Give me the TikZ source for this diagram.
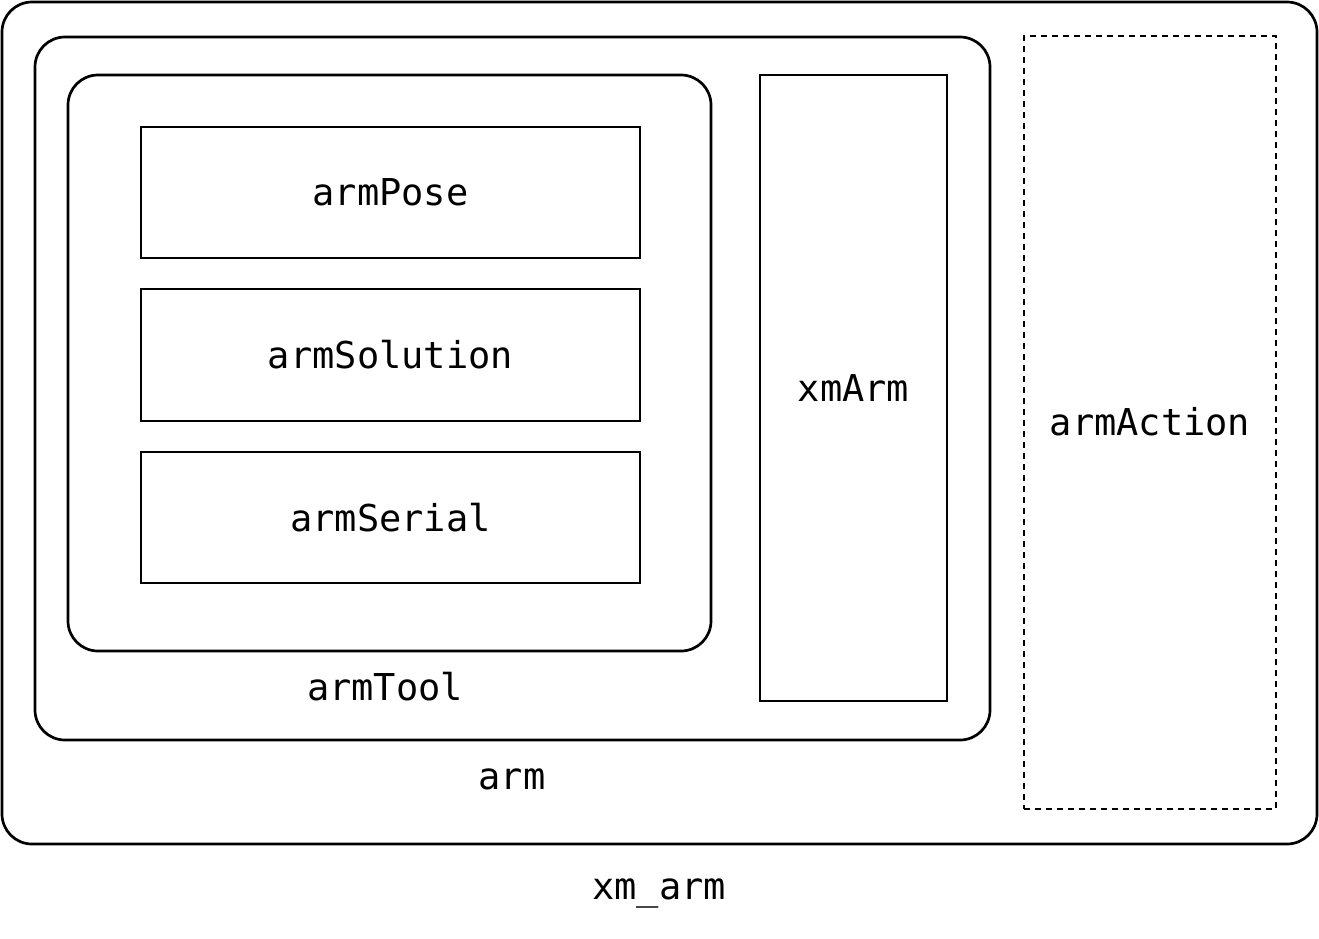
\documentclass[tikz,border=0pt]{standalone}
\usepackage{fontspec}
\setmonofont{DejaVu Sans Mono}
\begin{document}
\begin{tikzpicture}[x=1pt,y=-1pt,
  lbl/.style={font=\ttfamily\fontsize{37}{44}\selectfont, inner sep=0pt},
  box/.style={draw, line width=2.7pt, rectangle, inner sep=0pt, font=\ttfamily\fontsize{37}{44}\selectfont},
  rbox/.style={box, rounded corners=30pt}]
\useasboundingbox (0,0) rectangle (1319,938);
\node[rbox, minimum width=1315pt, minimum height=842pt] (xmarmbox) at (659.5,423) {};
\node[rbox, minimum width=955pt, minimum height=703pt] (armbox) at (512.5,388.5) {};
\node[rbox, minimum width=643pt, minimum height=576pt] (armtoolbox) at (389.5,363) {};
\node[box, minimum width=499pt, minimum height=131pt] (armPose) at (390.5,192.5) {armPose};
\node[box, minimum width=499pt, minimum height=132pt] (armSolution) at (390.5,355) {armSolution};
\node[box, minimum width=499pt, minimum height=131pt] (armSerial) at (390.5,517.5) {armSerial};
\node[box, minimum width=187pt, minimum height=626pt] (xmArmbox) at (853.5,388) {};
\node[lbl] (xmArm) at (853.5,388) {xmArm};
\node[box, dash pattern=on 6pt off 5pt, line width=2.4pt, minimum width=252pt, minimum height=773pt] (armActionbox) at (1150,422.5) {};
\node[lbl] (armAction) at (1150,422) {armAction};
\node[lbl] (armTool) at (385,687) {armTool};
\node[lbl] (arm) at (512,779) {arm};
\node[lbl] (xmarm) at (659,893) {xm\_arm};
\end{tikzpicture}
\end{document}
